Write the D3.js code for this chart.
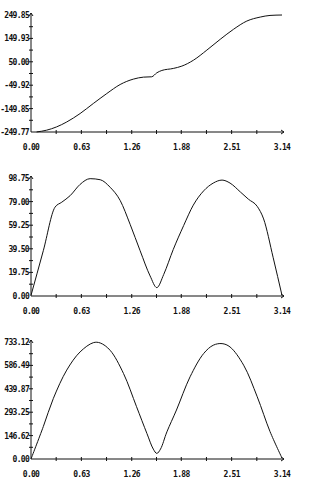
<!DOCTYPE html>
<html>
<head>
<meta charset="utf-8">
<script src="https://cdn.jsdelivr.net/npm/d3@7"></script>
<style>
  body { margin: 0; background: #fff; }
  text { font-family: "DejaVu Sans Mono", monospace; font-size: 8px; font-weight: bold; letter-spacing: -0.7px; fill: #111; }
</style>
</head>
<body>
<script>
/* DATA */
const xTicks = [0.00, 0.63, 1.26, 1.88, 2.51, 3.14];

const yTicks1 = [-249.77, -149.85, -49.92, 50.00, 149.93, 249.85];
const x1 = [0.07, 0.196, 0.32, 0.447, 0.614, 0.78, 0.948, 1.115, 1.28, 1.407, 1.51, 1.574, 1.637, 1.78, 1.887, 2.033, 2.2, 2.367, 2.534, 2.70, 2.868, 2.99, 3.14];
const y1 = [-249.5, -242, -228, -207, -171, -128, -85.6, -47, -24, -15.5, -14, 3, 13, 21.6, 31.6, 57, 100, 146, 189, 224, 241, 248, 249.85];

const yTicks2 = [0.00, 19.75, 39.50, 59.25, 79.00, 98.75];
const x2 = [0, 0.154, 0.30, 0.385, 0.49, 0.614, 0.74, 0.866, 0.99, 1.115, 1.24, 1.365, 1.49, 1.574, 1.66, 1.78, 1.91, 2.03, 2.16, 2.28, 2.39, 2.49, 2.62, 2.72, 2.83, 2.91, 3.03, 3.14];
const y2 = [0.5, 37.9, 74.3, 78.5, 84, 93.4, 98.2, 97.3, 91, 80, 60, 37.9, 16.8, 7, 18, 39, 59, 76, 88, 94.5, 97, 94.5, 87, 81, 75, 64.5, 32, 0.5];

const yTicks3 = [0.00, 146.62, 293.25, 439.87, 586.49, 733.12];
const x3 = [0, 0.154, 0.28, 0.447, 0.614, 0.78, 0.866, 0.99, 1.157, 1.32, 1.45, 1.53, 1.574, 1.62, 1.70, 1.82, 1.99, 2.16, 2.28, 2.39, 2.49, 2.66, 2.83, 2.99, 3.14];
const y3 = [0, 203, 380, 557, 671, 729, 727, 681, 536, 328, 160, 62, 35, 62, 170, 307, 515, 661, 713, 723, 702, 588, 390, 172, 6];

const width = 310, height = 491;
const left = 31, right = 282;

const svg = d3.select("body").append("svg")
  .attr("width", width)
  .attr("height", height);

function panel(xs, ys, yTicks, top, bottom, curve) {
  const g = svg.append("g");

  const xScale = d3.scaleLinear().domain([0, 3.14]).range([left, right]);
  const yScale = d3.scaleLinear().domain([yTicks[0], yTicks[yTicks.length - 1]]).range([bottom, top]);

  // minor ticks at midpoints
  const xMinor = d3.pairs(xTicks).map(p => (p[0] + p[1]) / 2);
  const yMinor = d3.pairs(yTicks).map(p => (p[0] + p[1]) / 2);

  // axis lines
  g.append("line").attr("x1", left).attr("x2", right + 2).attr("y1", bottom).attr("y2", bottom)
    .attr("stroke", "#111");
  g.append("line").attr("x1", left).attr("x2", left).attr("y1", bottom).attr("y2", top - 2)
    .attr("stroke", "#111");
  // arrowheads
  g.append("path").attr("d", `M${right - 1},${bottom - 2}L${right + 2},${bottom}L${right - 1},${bottom + 2}`)
    .attr("fill", "none").attr("stroke", "#111");
  g.append("path").attr("d", `M${left - 2},${top + 1}L${left},${top - 2}L${left + 2},${top + 1}`)
    .attr("fill", "none").attr("stroke", "#111");

  // ticks crossing the axes
  g.selectAll(".xt").data(xTicks.slice(1, -1).concat(xMinor)).enter().append("line")
    .attr("x1", d => xScale(d)).attr("x2", d => xScale(d))
    .attr("y1", bottom - 2).attr("y2", bottom + 2).attr("stroke", "#111");
  g.selectAll(".yt").data(yTicks.slice(1, -1).concat(yMinor)).enter().append("line")
    .attr("x1", left - 2).attr("x2", left + 2)
    .attr("y1", d => yScale(d)).attr("y2", d => yScale(d)).attr("stroke", "#111");

  // labels
  g.selectAll(".xl").data(xTicks).enter().append("text")
    .attr("x", d => xScale(d)).attr("y", bottom + 18)
    .attr("text-anchor", "middle")
    .text(d => d.toFixed(2));
  g.selectAll(".yl").data(yTicks).enter().append("text")
    .attr("x", left - 2).attr("y", d => yScale(d) + 3)
    .attr("text-anchor", "end")
    .text(d => d.toFixed(2));

  // curve
  const line = d3.line()
    .x((d, i) => xScale(xs[i]))
    .y(d => yScale(d))
    .curve(curve);
  g.append("path").datum(ys)
    .attr("d", line)
    .attr("fill", "none")
    .attr("stroke", "#111")
    .attr("stroke-width", 1);
}

panel(x1, y1, yTicks1, 15, 132, d3.curveMonotoneX);
panel(x2, y2, yTicks2, 178, 296, d3.curveMonotoneX);
panel(x3, y3, yTicks3, 342, 459, d3.curveCatmullRom);
</script>
</body>
</html>
